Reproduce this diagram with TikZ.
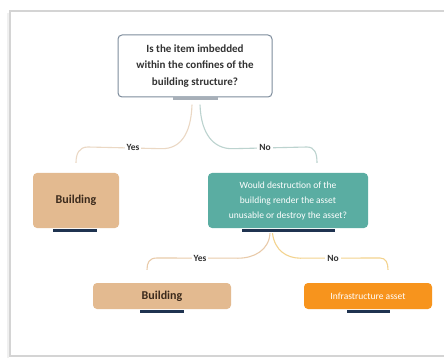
\documentclass[tikz,border=0pt]{standalone}
\usepackage{fontspec}
\setmainfont{Carlito}
\definecolor{frameg}{HTML}{D4D4D4}
\definecolor{qborder}{HTML}{7D8C9C}
\definecolor{tan}{HTML}{E3BA90}
\definecolor{teal}{HTML}{5AADA2}
\definecolor{orng}{HTML}{F7941D}
\definecolor{navy}{HTML}{1F3350}
\definecolor{barg}{HTML}{A7AFB8}
\definecolor{lyes}{HTML}{EBD8C4}
\definecolor{lno}{HTML}{BCD3CF}
\definecolor{lyes2}{HTML}{E9CBAA}
\definecolor{lno2}{HTML}{F3D38E}
\definecolor{brownt}{HTML}{3B2A1C}
\tikzset{
  box/.style={rounded corners=4pt, inner sep=0pt, align=center},
  qbox/.style={box, draw=qborder, line width=1pt, fill=white, text=black!80, font=\fontsize{11}{16.5}\selectfont\bfseries},
  tanbox/.style={box, fill=tan, text=brownt, font=\fontsize{12}{14}\selectfont\bfseries},
  tealbox/.style={box, fill=teal, text=white, font=\fontsize{9.5}{15}\selectfont},
  orbox/.style={box, fill=orng, text=white, font=\fontsize{9.5}{12}\selectfont},
  bar/.style={fill=navy, inner sep=0pt, minimum height=3pt},
  conn/.style={line width=1.1pt},
  lbl/.style={fill=white, inner sep=2pt, font=\fontsize{9.5}{11}\selectfont\bfseries, text=black!80}
}
\begin{document}
\begin{tikzpicture}[x=1pt,y=-1pt]
\useasboundingbox (0,0) rectangle (444,358);
\fill[white] (0,0) rectangle (444,358);
% frame
\draw[frameg, line width=1.2pt] (446,11) -- (10,11) -- (10,356) -- (446,356);
\draw[black!6, line width=2pt] (8,13) -- (8,358);
% nodes
\node[qbox, minimum width=154pt, minimum height=62pt] (q1) at (195,66) {Is the item imbedded\\within the confines of the\\building structure?};
\node[bar, fill=barg, minimum width=45pt] (bq1) at (195.5,99) {};
\node[tanbox, minimum width=86pt, minimum height=55pt] (b1) at (76,200.5) {Building};
\node[bar, minimum width=44pt] (bb1) at (75,230.5) {};
\node[tealbox, minimum width=160pt, minimum height=55pt] (q2) at (288,200.5) {Would destruction of the\\building render the asset\\unusable or destroy the asset?};
\node[bar, minimum width=93pt] (bq2) at (288.5,230.5) {};
\node[tanbox, minimum width=138pt, minimum height=26pt] (b2) at (162,296) {Building};
\node[bar, minimum width=44pt] (bb2) at (162,311) {};
\node[orbox, minimum width=128pt, minimum height=26pt] (ia) at (368,296) {Infrastructure asset};
\node[bar, minimum width=43pt] (bia) at (368.5,311) {};
% connector end points
\coordinate (s1) at ([xshift=-3.5pt,yshift=-4pt]bq1.south);
\coordinate (s2) at ([xshift=4.5pt,yshift=-4pt]bq1.south);
\coordinate (e1) at ([yshift=10pt]b1.north);
\coordinate (e2) at ([xshift=29pt,yshift=10pt]q2.north);
\coordinate (s3) at ([xshift=-18.5pt,yshift=-1pt]bq2.south);
\coordinate (s4) at ([xshift=-16pt,yshift=-1pt]bq2.south);
\coordinate (e3) at ([xshift=-15pt,yshift=13pt]b2.north);
\coordinate (e4) at ([xshift=20pt,yshift=13pt]ia.north);
% connectors
\draw[conn, lyes] (s1) .. controls +(-1,30) and +(18,0) .. +(-30,44) -- ([xshift=12pt]e1 |- 0,147) .. controls +(-9,0) and +(0,-9) .. (e1);
\draw[conn, lno] (s2) .. controls +(1,30) and +(-18,0) .. +(32,44) -- ([xshift=-10pt]e2 |- 0,147) .. controls +(8,0) and +(0,-9) .. (e2);
\draw[conn, lyes2] (s3) .. controls +(-1,17) and +(16,0) .. +(-32,25) -- ([xshift=10pt]e3 |- 0,258) .. controls +(-8,0) and +(0,-7) .. (e3);
\draw[conn, lno2] (s4) .. controls +(2,17) and +(-14,0) .. +(28,25) -- ([xshift=-8pt]e4 |- 0,258) .. controls +(6,0) and +(0,-7) .. (e4);
% labels
\node[lbl] (y1) at (133,147) {Yes};
\node[lbl] (n1) at (265,147) {No};
\node[lbl] (y2) at (200,258) {Yes};
\node[lbl] (n2) at (333,258) {No};
\end{tikzpicture}
\end{document}
